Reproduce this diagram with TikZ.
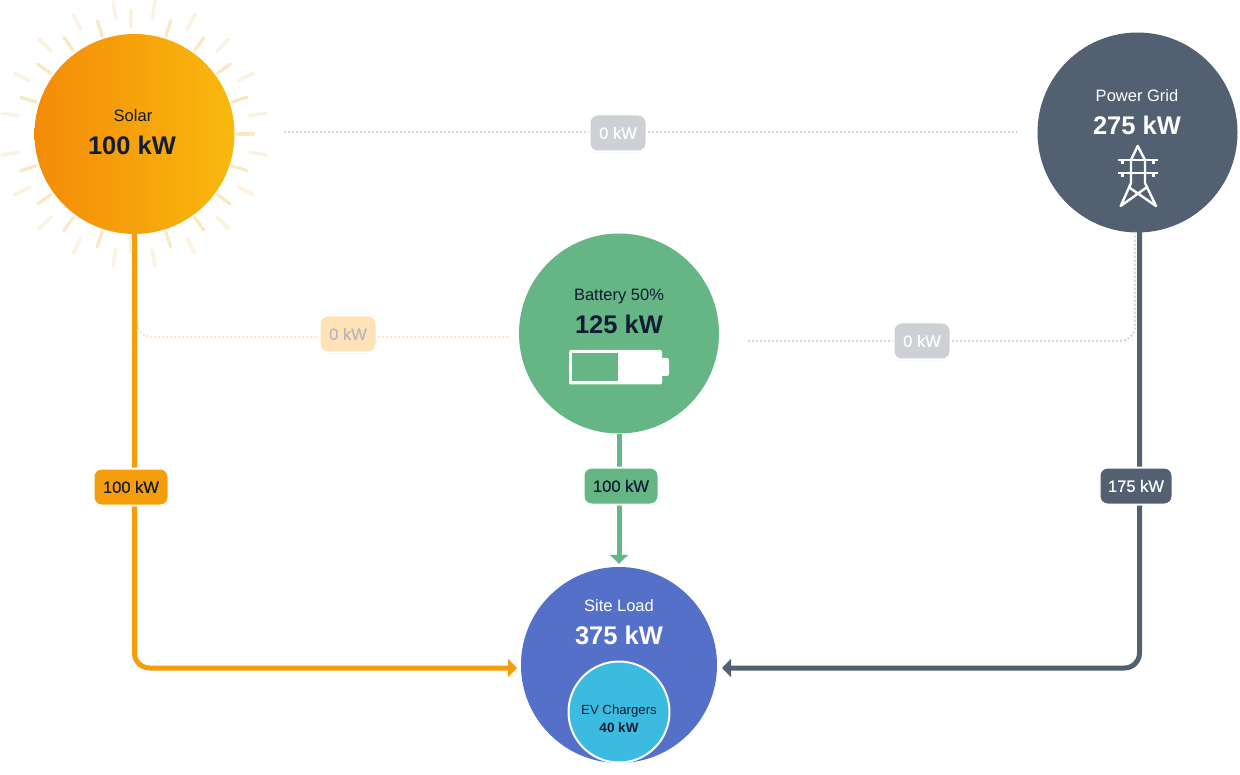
\documentclass[tikz,border=0pt]{standalone}
\usepackage{fontspec}
\setmainfont{Liberation Sans}
\newfontfamily\medfont[FakeBold=0.7]{Liberation Sans}
\usetikzlibrary{arrows.meta,shadows}
\definecolor{SolarCol}{HTML}{F59E0B}
\definecolor{SunLeft}{HTML}{F48B08}
\definecolor{SunRight}{HTML}{F9B90E}
\definecolor{BattCol}{HTML}{66B584}
\definecolor{GridCol}{HTML}{526072}
\definecolor{LoadCol}{HTML}{5470C8}
\definecolor{EvCol}{HTML}{3BBBDF}
\definecolor{InkCol}{HTML}{111C35}
\definecolor{IdleCol}{HTML}{CDD1D6}
\definecolor{PaleCol}{HTML}{FFE2B8}
\tikzset{
  hub/.style={circle,inner sep=0pt,minimum size=200pt},
  capt/.style={font=\fontsize{16.5}{18}\selectfont},
  big/.style={font=\fontsize{25.5}{28}\selectfont\bfseries},
  flow/.style={line width=5pt,rounded corners=15pt,-{Triangle[length=9pt,width=18pt]}},
  idle/.style={line width=2pt,rounded corners=15pt,dash pattern=on 2pt off 2pt},
  tag/.style={draw=white,line width=2pt,rounded corners=8pt,minimum height=37pt,inner sep=0pt,
    font=\fontsize{16.5}{18}\medfont,drop shadow={shadow xshift=0pt,shadow yshift=-1pt,opacity=0.12,fill=black}},
  ray/.style={SolarCol,line width=3.2pt,line cap=round}
}
\begin{document}
\begin{tikzpicture}[x=1pt,y=-1pt]
    \useasboundingbox (0,0) rectangle (1240,775);
    \fill[white] (0,0) rectangle (1240,775);

    % sun rays
    \foreach \a in {0,18,36,54,72,108,126,144,162,198,216,234,252,288,306,324,342}{
      \draw[ray,opacity=0.24] (134,134) ++(\a:103) -- ++(\a:16);
    }
    \draw[ray,opacity=0.14] (131,10) -- (131,27);
    \draw[ray,opacity=0.14] (131,237) -- (131,253);
    \foreach \a in {9,27,...,351}{
      \draw[ray,opacity=0.13] (134,134) ++(\a:117) -- ++(\a:17);
    }

    \node[hub,left color=SunLeft,right color=SunRight] (solar) at (134.5,134) {};
    \node[hub,fill=GridCol] (grid) at (1137.5,132.5) {};
    \node[hub,fill=BattCol] (battery) at (619,333.5) {};
    \node[hub,fill=LoadCol,minimum size=196pt] (load) at (619,665) {};

    \coordinate (SolarIn) at (517,668);
    \coordinate (GridOut) at (1139.5,232);
    \coordinate (GridIn)  at (722,668);
    \coordinate (GridIdle) at (1135,232);
    \coordinate (SolarIdle) at (137,328);
    \coordinate (SolarEnd) at (284,132);
    \coordinate (GridEnd) at (1018,132);
    \coordinate (BattLeft) at (510,337);
    \coordinate (BattRight) at (748,341);

    % idle links
    \draw[idle,IdleCol!85!white] (SolarEnd) -- (GridEnd);
    \draw[idle,PaleCol] (SolarIdle) |- (BattLeft);
    \draw[idle,IdleCol!85!white] (BattRight) -| (GridIdle);

    % live links
    \draw[flow,SolarCol] (solar.south) |- (SolarIn);
    \draw[flow,GridCol] (GridOut) |- (GridIn);
    \draw[flow,BattCol,shorten >=3pt] (battery.south) -- (load.north);

    % tags
    \node[tag,fill=IdleCol,text=white,minimum width=57pt] (tagTop) at (618,133) {0 kW};
    \node[tag,fill=PaleCol,text=black!28,minimum width=57pt] (tagPale) at (348,334) {0 kW};
    \node[tag,fill=IdleCol,text=white,minimum width=57pt] (tagMid) at (922,341) {0 kW};
    \node[tag,fill=SolarCol,text=InkCol,minimum width=75pt] (tagSolar) at (131,487) {100 kW};
    \node[tag,fill=BattCol,text=InkCol,minimum width=75pt] (tagBatt) at (621,486) {100 kW};
    \node[tag,fill=GridCol,text=white,minimum width=73pt] (tagGrid) at (1136,486) {175 kW};

    % hub texts
    \node[capt,text=InkCol] (solarCap) at (133,116) {Solar};
    \node[big,text=InkCol] (solarVal) at (132,145) {100 kW};
    \node[capt,text=white] (gridCap) at (1137,95.5) {Power Grid};
    \node[big,text=white] (gridVal) at (1137,125) {275 kW};
    \node[capt,text=InkCol] (battCap) at (619,296.5) {Battery 50\%};
    \node[big,text=InkCol] (battVal) at (619,324.5) {125 kW};
    \node[capt,text=white] (loadCap) at (619,606) {Site Load};
    \node[big,text=white] (loadVal) at (619,635.5) {375 kW};

    % pylon
    \draw[white,line width=2.4pt,line join=round] (1131,160) -- (1137.7,146) -- (1145,160)
        -- (1145,183) -- (1156,206) -- (1130,188) (1131,160) -- (1131,183) -- (1120.7,206) -- (1145.7,188);
    \draw[white,line width=2.4pt] (1118,160) -- (1158,160) (1118,173) -- (1158,173);
    \draw[white,line width=3.5pt] (1122.5,160) -- (1122.5,164.5) (1153.5,160) -- (1153.5,164.5)
        (1122.5,173) -- (1122.5,177.5) (1153.5,173) -- (1153.5,177.5);

    % battery icon
    \fill[white,rounded corners=2pt] (569,350) rectangle (662,384.5);
    \fill[white,rounded corners=2pt] (658,358) rectangle (669,376);
    \fill[BattCol] (572,353) rectangle (618,381.5);

    % charger circle, cut at the bottom
    \begin{scope}
      \clip (0,0) rectangle (1240,762);
      \node[circle,inner sep=0pt,minimum size=101pt,draw=white,line width=2pt,fill=EvCol] (ev) at (619,712) {};
    \end{scope}
    \node[text=InkCol,font=\fontsize{13.2}{15}\selectfont] (evCap) at (619,711) {EV Chargers};
    \node[text=InkCol,font=\fontsize{13.5}{15}\selectfont\bfseries] (evVal) at (619,728) {40 kW};
\end{tikzpicture}
\end{document}
